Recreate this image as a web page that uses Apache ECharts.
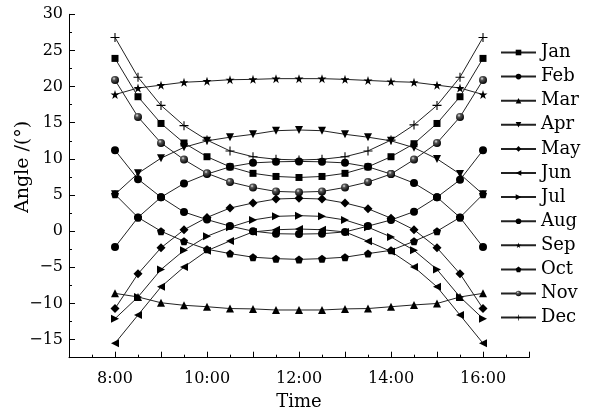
<!DOCTYPE html>
<html><head><meta charset="utf-8">
<script src="https://cdn.jsdelivr.net/npm/echarts@6/dist/echarts.min.js"></script>
<style>html,body{margin:0;padding:0;background:#fff}#c{width:590px;height:409px}</style>
</head><body><div id="c"></div>
<script>
const hours = [8, 8.5, 9, 9.5, 10, 10.5, 11, 11.5, 12, 12.5, 13, 13.5, 14, 14.5, 15, 15.5, 16];
const months = ['Jan','Feb','Mar','Apr','May','Jun','Jul','Aug','Sep','Oct','Nov','Dec'];
const jan = [23.9, 18.6, 14.9, 12.2, 10.3, 8.9, 8.0, 7.57, 7.43, 7.57, 8.0, 8.9, 10.3, 12.1, 14.9, 18.6, 23.9];
const feb = [11.2, 7.2, 4.7, 2.65, 1.6, 0.7, 0.0, -0.35, -0.4, -0.35, -0.1, 0.7, 1.55, 2.7, 4.7, 7.1, 11.2];
const mar = [-8.6, -9.1, -9.9, -10.25, -10.45, -10.7, -10.75, -10.9, -10.9, -10.9, -10.75, -10.7, -10.45, -10.2, -10.0, -9.1, -8.6];
const apr = [5.1, 8.0, 10.1, 11.6, 12.5, 13.0, 13.4, 13.9, 14.0, 13.9, 13.4, 13.0, 12.5, 11.55, 10.0, 7.9, 5.1];
const may = [-10.7, -5.9, -2.3, 0.2, 1.9, 3.2, 3.9, 4.45, 4.55, 4.45, 3.9, 3.1, 1.8, 0.2, -2.3, -5.9, -10.7];
const jun = [-15.5, -11.6, -7.7, -4.95, -2.7, -1.35, -0.1, 0.2, 0.3, 0.2, -0.1, -1.4, -2.8, -4.95, -7.7, -11.6, -15.5];
const jul = [-12.1, -9.1, -5.3, -2.65, -0.7, 0.55, 1.55, 2.05, 2.15, 2.05, 1.55, 0.55, -0.8, -2.65, -5.3, -9.1, -12.1];
const aug = [-2.2, 1.9, 4.7, 6.6, 7.9, 8.9, 9.45, 9.6, 9.65, 9.6, 9.45, 8.9, 7.9, 6.65, 4.7, 1.9, -2.2];
const sep = [18.9, 19.8, 20.2, 20.6, 20.75, 20.95, 21.0, 21.1, 21.1, 21.1, 21.0, 20.85, 20.7, 20.6, 20.2, 19.8, 18.9];
const oct = [5.1, 1.9, 0.0, -1.4, -2.5, -3.1, -3.6, -3.8, -3.9, -3.8, -3.6, -3.1, -2.65, -1.4, 0.0, 1.9, 5.1];
const nov = [20.9, 15.8, 12.2, 9.9, 8.0, 6.8, 6.05, 5.5, 5.4, 5.5, 6.05, 6.8, 7.9, 9.9, 12.2, 15.8, 20.9];
const dec = [26.8, 21.3, 17.4, 14.6, 12.6, 11.1, 10.3, 9.95, 9.85, 9.95, 10.3, 11.1, 12.6, 14.7, 17.4, 21.3, 26.8];
const yTicks = [-15, -10, -5, 0, 5, 10, 15, 20, 25, 30];
const xLabelHours = [8, 10, 12, 14, 16];

const values = [jan, feb, mar, apr, may, jun, jul, aug, sep, oct, nov, dec];
const FONT = 'DejaVu Serif';
const STAR = 'path://M50,0 L61.23,34.55 L97.55,34.55 L68.17,55.9 L79.39,90.45 L50,69.1 L20.61,90.45 L31.83,55.9 L2.45,34.55 L38.77,34.55 Z';
const PENT = 'path://M50,0 L97.55,34.55 L79.39,90.45 L20.61,90.45 L2.45,34.55 Z';
const PLUS = 'path://M4.4,0 H5.6 V4.4 H10 V5.6 H5.6 V10 H4.4 V5.6 H0 V4.4 H4.4 Z';
const DOWN = 'path://M0,0 L10,0 L5,8.66 Z';
const LEFT = 'path://M0,5 L8.66,0 L8.66,10 Z';
const RIGHT = 'path://M8.66,5 L0,0 L0,10 Z';
const sphere = {type:'radial', x:0.38, y:0.32, r:0.7, colorStops:[{offset:0,color:'#e8e8e8'},{offset:0.3,color:'#555'},{offset:1,color:'#000'}]};
const styles = [
  {symbol:'rect', size:7},
  {symbol:'circle', size:8},
  {symbol:'triangle', size:8},
  {symbol:DOWN, size:8},
  {symbol:'diamond', size:9},
  {symbol:LEFT, size:8},
  {symbol:RIGHT, size:8},
  {symbol:'circle', size:8},
  {symbol:STAR, size:9},
  {symbol:PENT, size:8},
  {symbol:'circle', size:8, color:sphere},
  {symbol:PLUS, size:9}
];

const series = months.map((m, k) => ({
  name: m, type: 'line', xAxisIndex: 0, yAxisIndex: 0,
  data: hours.map((h, i) => [h, values[k][i]]),
  symbol: styles[k].symbol, symbolSize: styles[k].size,
  itemStyle: {color: styles[k].color || '#000'},
  lineStyle: {color: '#222', width: 1},
  animation: false
}));

const fmtY = v => (v < 0 ? '\u2212' + Math.abs(v) : String(v));
const chart = echarts.init(document.getElementById('c'), null, {renderer: 'canvas'});
chart.setOption({
  animation: false,
  backgroundColor: '#fff',
  textStyle: {fontFamily: FONT},
  grid: [
    {left: 69, top: 14.3, width: 460, height: 343.4, containLabel: false, outerBoundsMode: 'none'},
    {left: 69, top: 14.3, width: 460, height: 325.3, containLabel: false, outerBoundsMode: 'none'}
  ],
  legend: {
    orient: 'vertical', left: 500, top: 43.5, padding: 0,
    itemWidth: 35, itemHeight: 7, itemGap: 6.1,
    data: months,
    textStyle: {fontFamily: FONT, fontSize: 18, color: '#000', lineHeight: 18}
  },
  xAxis: [
    {type: 'value', gridIndex: 0, min: 7, max: 17, interval: 1,
     name: 'Time', nameLocation: 'middle', nameGap: 36, nameMoveOverlap: false,
     nameTextStyle: {fontFamily: FONT, fontSize: 18, color: '#000'},
     axisLine: {show: true, onZero: false, lineStyle: {color: '#000', width: 1}},
     axisTick: {show: true, inside: true, length: 6, lineStyle: {color: '#000'}},
     minorTick: {show: true, splitNumber: 2, length: 3, lineStyle: {color: '#000'}},
     splitLine: {show: false},
     axisLabel: {fontFamily: FONT, fontSize: 16, color: '#000', margin: 13,
       formatter: v => (xLabelHours.indexOf(v) >= 0 ? v + ':00' : '')}},
    {type: 'value', gridIndex: 1, min: 7, max: 17, show: false,
     axisLine: {onZero: false}}
  ],
  yAxis: [
    {type: 'value', gridIndex: 0, min: -17.5, max: 30, interval: 2.5,
     axisLine: {show: true, onZero: false, lineStyle: {color: '#000', width: 1}},
     axisTick: {show: false}, axisLabel: {show: false}, splitLine: {show: false}},
    {type: 'value', gridIndex: 1, min: yTicks[0], max: yTicks[yTicks.length - 1], interval: 5,
     name: 'Angle /(\u00B0)', nameLocation: 'middle', nameGap: 36, nameRotate: 90, nameMoveOverlap: false,
     nameTextStyle: {fontFamily: FONT, fontSize: 19, color: '#000', padding: [0, 0, 0, 20]},
     axisLine: {show: false, onZero: false},
     axisTick: {show: true, inside: true, length: 6, lineStyle: {color: '#000'}},
     minorTick: {show: true, splitNumber: 2, length: 3, lineStyle: {color: '#000'}},
     splitLine: {show: false},
     axisLabel: {fontFamily: FONT, fontSize: 16, color: '#000', margin: 6, formatter: fmtY}}
  ],
  series: series
});
</script></body></html>
